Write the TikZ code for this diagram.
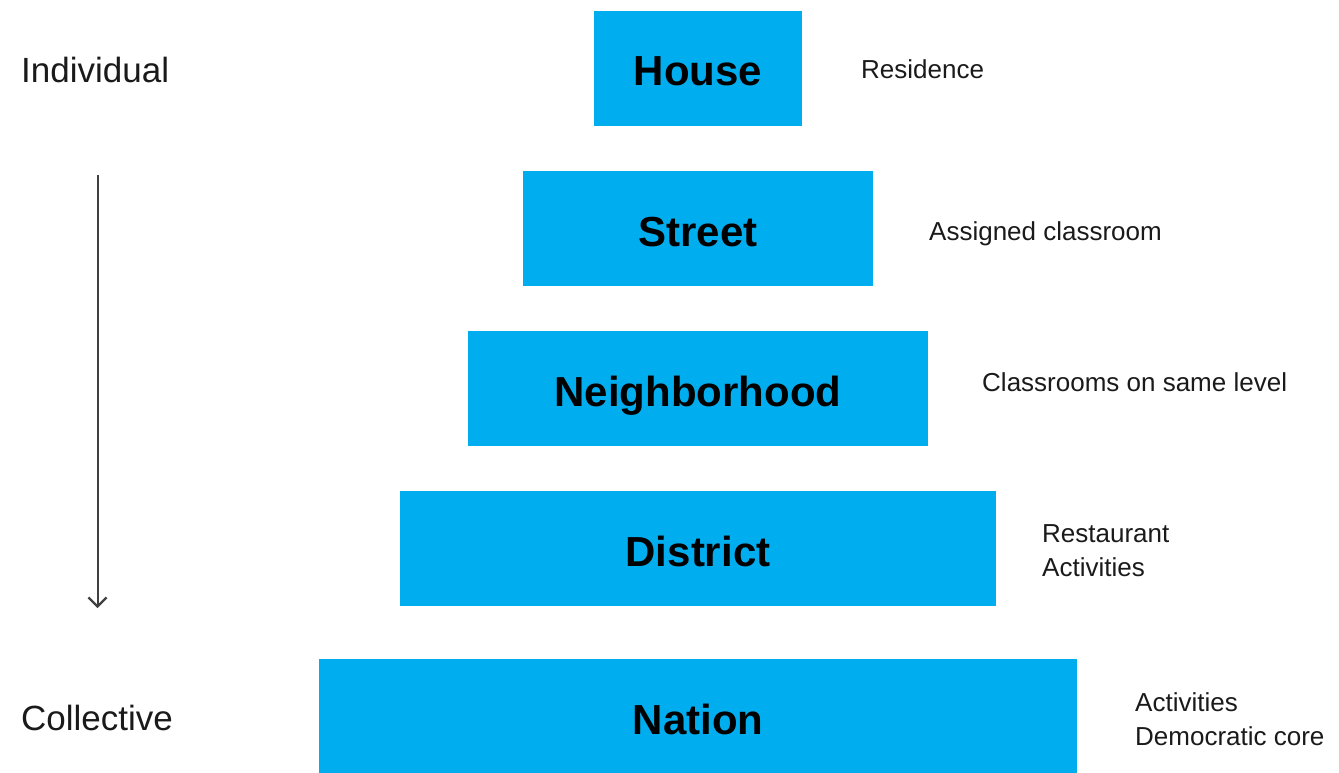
\documentclass[tikz,border=0pt]{standalone}
\usepackage{fontspec}
\setmainfont{Liberation Sans}
\usetikzlibrary{arrows.meta}
\definecolor{boxblue}{HTML}{00AEEF}
\definecolor{txt}{HTML}{1A1A1A}
\begin{document}
\begin{tikzpicture}[x=1pt,y=-1pt,
  level/.style={fill=boxblue, draw=none, minimum height=115pt, inner sep=0pt,
    font=\fontsize{42}{50}\selectfont\bfseries, text=black,
    text height=35pt, text depth=0pt},
  sidelabel/.style={anchor=base west, inner sep=0pt, text=txt,
    font=\fontsize{26}{32}\selectfont},
  endlabel/.style={anchor=base west, inner sep=0pt, text=txt,
    font=\fontsize{35}{42}\selectfont}]
\useasboundingbox (0,0) rectangle (1339,773);
% boxes
\node[level, minimum width=208pt] (house) at (698,68.5) {House};
\node[level, minimum width=350pt] (street) at (698,228.5) {Street};
\node[level, minimum width=460pt] (neigh) at (698,388.5) {Neighborhood};
\node[level, minimum width=596pt] (district) at (698,548.5) {District};
\node[level, minimum width=758pt] (nation) at (698,716.5) {Nation};
% side labels
\node[sidelabel] (l1) at (861,79) {Residence};
\node[sidelabel] (l2) at (929,240) {Assigned classroom};
\node[sidelabel] (l3) at (982,391) {Classrooms on same level};
\node[sidelabel] (l4a) at (1042,542) {Restaurant};
\node[sidelabel] (l4b) at (1042,576) {Activities};
\node[sidelabel] (l5a) at (1135,711) {Activities};
\node[sidelabel] (l5b) at (1135,745) {Democratic core};
% left labels
\node[endlabel] (ind) at (21,83) {Individual};
\node[endlabel] (col) at (21,730) {Collective};
% arrow
\coordinate (atop) at (97.5,175);
\coordinate (abot) at (97.5,608);
\draw[line width=2pt, black!75, -{Straight Barb[length=9pt,width=18pt,line width=2.2pt]}] (atop) -- (abot);
\end{tikzpicture}
\end{document}
